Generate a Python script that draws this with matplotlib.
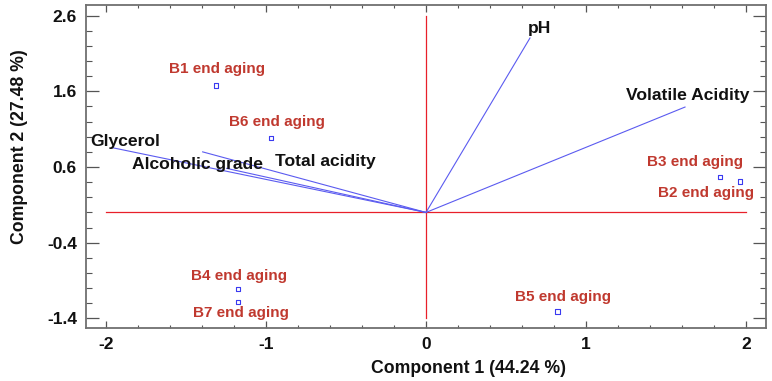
import matplotlib
matplotlib.use("Agg")
import matplotlib.pyplot as plt
from matplotlib.ticker import FixedLocator, MultipleLocator, FixedFormatter

plt.rcParams['font.family'] = ['Liberation Sans', 'DejaVu Sans']

# Variable loading vectors (component 1, component 2)
var_names = ["Glycerol", "Alcoholic grade", "Total acidity", "pH", "Volatile Acidity"]
var_x = [-1.96, -1.396, -1.246, 0.65, 1.619]
var_y = [0.855, 0.80, 0.582, 2.304, 1.392]
# label anchor positions for variables
var_lx = [-1.883, -1.43, -0.628, 0.7125, 1.6375]
var_ly = [0.934, 0.633, 0.67, 2.436, 1.542]

# Sample scores
obs_names = ["B1 end aging", "B6 end aging", "B3 end aging", "B2 end aging",
             "B4 end aging", "B7 end aging", "B5 end aging"]
obs_x = [-1.314, -0.969, 1.8375, 1.9625, -1.175, -1.175, 0.821]
obs_y = [1.679, 0.987, 0.464, 0.411, -1.008, -1.18, -1.307]
obs_lx = [-1.307, -0.933, 1.681, 1.752, -1.171, -1.159, 0.854]
obs_ly = [1.894, 1.198, 0.67, 0.26, -0.84, -1.325, -1.114]

x_ticks = [-2, -1, 0, 1, 2]
x_labels = ["-2", "-1", "0", "1", "2"]
y_ticks = [-1.4, -0.4, 0.6, 1.6, 2.6]
y_labels = ["-1.4", "-0.4", "0.6", "1.6", "2.6"]

fig = plt.figure(figsize=(7.72, 3.81), dpi=100)
ax = fig.add_axes([0.1114, 0.1404, 0.9922 - 0.1114, 0.9869 - 0.1404])
ax.set_xlim(-2.125, 2.125)
ax.set_ylim(-1.52, 2.74)

red = '#e8202a'
# reference axes lines
ax.plot([x_ticks[0], x_ticks[-1]], [0, 0], color=red, lw=0.9, zorder=1)
ax.plot([0, 0], [y_ticks[0], y_ticks[-1]], color=red, lw=0.9, zorder=1)

blue = '#5b5bf0'
for vx, vy in zip(var_x, var_y):
    ax.plot([0, vx], [0, vy], color=blue, lw=0.8, zorder=2)
for name, lx, ly in zip(var_names, var_lx, var_ly):
    ax.text(lx, ly, name, ha='center', va='center', fontsize=12.6,
            fontweight='bold', color='#111111', zorder=4)

ax.scatter(obs_x, obs_y, marker='s', s=10, facecolors='none',
           edgecolors='#3a3af0', linewidths=0.8, zorder=3)
lab_red = '#c0392f'
for name, lx, ly in zip(obs_names, obs_lx, obs_ly):
    ax.text(lx, ly, name, ha='center', va='center', fontsize=11,
            fontweight='bold', color=lab_red, zorder=4)

ax.xaxis.set_major_locator(FixedLocator(x_ticks))
ax.xaxis.set_major_formatter(FixedFormatter(x_labels))
ax.xaxis.set_minor_locator(MultipleLocator(0.2))
ax.yaxis.set_major_locator(FixedLocator(y_ticks))
ax.yaxis.set_major_formatter(FixedFormatter(y_labels))
ax.yaxis.set_minor_locator(MultipleLocator(0.2))

tc = '#555555'
ax.tick_params(axis='x', which='major', direction='in', length=5, width=0.9,
               color=tc, top=True, bottom=True, pad=7)
ax.tick_params(axis='x', which='minor', direction='in', length=2.4, width=0.8,
               color=tc, top=True, bottom=True)
ax.tick_params(axis='y', which='major', direction='in', length=9.4, width=0.9,
               color=tc, left=True, right=True, pad=6.5)
ax.tick_params(axis='y', which='minor', direction='in', length=4.3, width=0.8,
               color=tc, left=True, right=True)
for lbl in ax.get_xticklabels() + ax.get_yticklabels():
    lbl.set_fontsize(12.5)
    lbl.set_fontweight('bold')
    lbl.set_color('#111111')

for sp in ax.spines.values():
    sp.set_color('#707070')
    sp.set_linewidth(1.3)

ax.set_xlabel("Component 1 (44.24 %)", fontsize=12.7, fontweight='bold',
              color='#111111')
ax.set_ylabel("Component 2 (27.48 %)", fontsize=12.7, fontweight='bold',
              color='#111111')
ax.xaxis.set_label_coords(0.562, -0.102)
ax.yaxis.set_label_coords(-0.086, 0.56)

fig.savefig("out.png", dpi=100)
